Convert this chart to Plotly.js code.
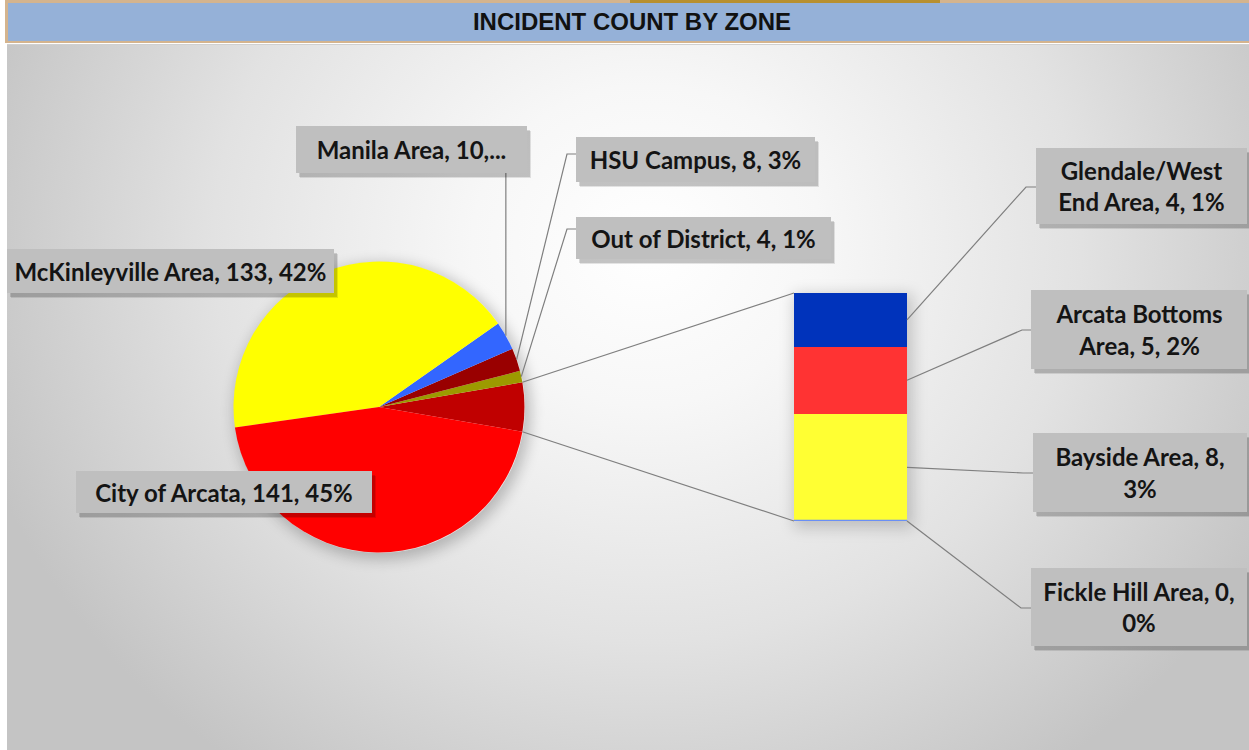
<!DOCTYPE html>
<html><head><meta charset="utf-8">
<script src="https://cdn.plot.ly/plotly-3.0.1.min.js"></script>
<style>
html,body{margin:0;padding:0;width:1249px;height:750px;overflow:hidden;background:#fff;}
#bg{position:absolute;left:7px;top:44px;width:1242px;height:706px;
 background:radial-gradient(ellipse 700px 640px at 640px 200px,#ffffff 0%,#f7f7f7 25%,#e2e2e2 62%,#c4c4c4 100%);
 border-top:1px solid #d0d0d0;}
#tb{position:absolute;left:5px;top:0;width:1250px;height:38px;background:#95B1D8;
 border-top:3px solid #D4B48E;border-bottom:2px solid #D4B48E;border-left:3px solid #D4B48E;}
#strip{position:absolute;left:630px;top:0;width:310px;height:3px;background:#B8902F;}
#pieglow{position:absolute;border-radius:50%;box-shadow:3px 4px 14px 3px rgba(0,0,0,0.22);}
#barglow{position:absolute;box-shadow:3px 4px 14px 3px rgba(0,0,0,0.18);}
#chart{position:absolute;left:0;top:0;width:1249px;height:750px;}
</style></head><body>
<div id="bg"></div><div id="tb"></div><div id="strip"></div>
<div id="pieglow"></div><div id="barglow"></div>
<div id="chart"></div>
<script>
// ---------- DATA ----------
const title = 'INCIDENT COUNT BY ZONE';
// main pie slices (after the "other" slice), counterclockwise
const pieNames  = ['Out of District','HSU Campus','Manila Area','McKinleyville Area','City of Arcata'];
const pieValues = [4, 8, 10, 133, 141];
const pieColors = ['#9C9A00','#990000','#3366FF','#FFFF00','#FF0000'];
const pieLabelText = ['Out of District, 4, 1%','HSU Campus, 8, 3%','Manila Area, 10,...',
                      'McKinleyville Area, 133, 42%','City of Arcata, 141, 45%'];
const otherName  = 'Other';
const otherColor = '#C00000';
// bar of pie (bottom to top)
const barNames  = ['Fickle Hill Area','Bayside Area','Arcata Bottoms Area','Glendale/West End Area'];
const barValues = [0, 8, 5, 4];
const barColors = ['#6A8FF5','#FFFF33','#FF3333','#0033BB'];
const barLabelText = ['Fickle Hill Area, 0,<br>0%','Bayside Area, 8,<br>3%',
                      'Arcata Bottoms<br>Area, 5, 2%','Glendale/West<br>End Area, 4, 1%'];

// ---------- LAYOUT GEOMETRY (pixels) ----------
const W = 1249, H = 750;
const PX = x => x / W, PY = y => 1 - y / H;
const pie = {cx: 379, cy: 407, R: 145.5};
const bar = {left: 794, right: 907, top: 293, bottom: 521};
const pieBoxes = [
  {x0:576, y0:217, w:255, h:42, stub:[567,229], attach:[576,229], leader:true},
  {x0:576, y0:137, w:239, h:45, stub:[567,154], attach:[576,154], leader:true},
  {x0:296, y0:126, w:231, h:47, vertical:true, bottom:173, leader:true},
  {x0:7,   y0:249, w:327, h:44, leader:false},
  {x0:76,  y0:471, w:296, h:42, leader:false}
];
const barBoxes = [
  {x0:1031, y0:568, w:216, h:78, stub:[1021,608], attach:[1031,608]},
  {x0:1033, y0:433, w:214, h:79, stub:[1023,473], attach:[1033,473]},
  {x0:1031, y0:290, w:216, h:79, stub:[1022,330], attach:[1031,330]},
  {x0:1036, y0:148, w:211, h:76, stub:[1026,187], attach:[1036,187]}
];

// ---------- DERIVED ----------
const otherValue = barValues.reduce((a,b)=>a+b,0);
const allValues = [otherValue].concat(pieValues);
const total = allValues.reduce((a,b)=>a+b,0);
const otherDeg = otherValue / total * 360;
const rad = d => d * Math.PI / 180;
const piePt = deg => [pie.cx + pie.R*Math.cos(rad(deg)), pie.cy - pie.R*Math.sin(rad(deg))];

Object.assign(document.getElementById('pieglow').style,{left:(pie.cx-pie.R)+'px',top:(pie.cy-pie.R)+'px',width:(2*pie.R)+'px',height:(2*pie.R)+'px'});
Object.assign(document.getElementById('barglow').style,{left:bar.left+'px',top:bar.top+'px',width:(bar.right-bar.left)+'px',height:(bar.bottom-bar.top)+'px'});

const traces = [];
traces.push({
  type:'pie', values: allValues, labels: [otherName].concat(pieNames),
  marker:{colors:[otherColor].concat(pieColors), line:{width:0}},
  sort:false, direction:'counterclockwise', rotation: 90 - otherDeg/2,
  textinfo:'none', showlegend:false, hoverinfo:'label+value+percent',
  domain:{x:[PX(pie.cx-pie.R), PX(pie.cx+pie.R)], y:[PY(pie.cy+pie.R), PY(pie.cy-pie.R)]}
});
barNames.forEach((n,i)=>traces.push({
  type:'bar', x:[0], y:[barValues[i]], width:1, name:n,
  marker:{color:barColors[i], line:{width:0}}, showlegend:false, xaxis:'x', yaxis:'y'
}));

const shapes = [];
const annotations = [];
const lineStyle = {color:'#7f7f7f', width:1.2};
const pathOf = pts => pts.map((p,i)=>(i?'L':'M')+PX(p[0]).toFixed(5)+','+PY(p[1]).toFixed(5)).join(' ');

shapes.push({type:'line', xref:'x', yref:'y', x0:-0.5, x1:0.5, y0:0, y1:0, line:{color:barColors[0], width:2.5}});

shapes.push({type:'path', xref:'paper', yref:'paper', path:pathOf([piePt(otherDeg/2),[bar.left,bar.top]]), line:lineStyle});
shapes.push({type:'path', xref:'paper', yref:'paper', path:pathOf([piePt(-otherDeg/2),[bar.left,bar.bottom]]), line:lineStyle});

let ang = otherDeg/2;
pieValues.forEach((v,i)=>{
  const d = v/total*360;
  const mid = ang + d/2; ang += d;
  const b = pieBoxes[i];
  if (!b.leader) return;
  const p = piePt(mid);
  let pts;
  if (b.vertical) pts = [p,[p[0], b.bottom]];
  else pts = [p, b.stub, b.attach];
  shapes.push({type:'path', xref:'paper', yref:'paper', path:pathOf(pts), line:lineStyle});
});

let cum = 0;
const barY = v => bar.bottom - v/otherValue*(bar.bottom-bar.top);
barValues.forEach((v,i)=>{
  const my = barY(cum + v/2); cum += v;
  const b = barBoxes[i];
  shapes.push({type:'path', xref:'paper', yref:'paper', path:pathOf([[bar.right,my], b.stub, b.attach]), line:lineStyle});
});

const labelFont = {family:'Lato, Calibri, sans-serif', size:24, color:'#141414', weight:700};
function addBox(b, text){
  // soft drop shadow (two layered rects)
  [[4,5,0.10],[3,4,0.14]].forEach(s=>shapes.push({type:'rect', xref:'paper', yref:'paper', layer:'above',
    x0:PX(b.x0+s[0]), x1:PX(b.x0+b.w+s[0]), y0:PY(b.y0+b.h+s[1]), y1:PY(b.y0+s[1]),
    fillcolor:'rgba(0,0,0,'+s[2]+')', line:{width:0}}));
  annotations.push({xref:'paper', yref:'paper', x:PX(b.x0), y:PY(b.y0), xanchor:'left', yanchor:'top',
    width:b.w, height:b.h, borderpad:0, borderwidth:0, showarrow:false, align:'center', valign:'middle',
    text:text, bgcolor:'#BFBFBF', font:labelFont});
}
pieBoxes.forEach((b,i)=>addBox(b, pieLabelText[i]));
barBoxes.forEach((b,i)=>addBox(b, barLabelText[i]));

const layout = {
  width:W, height:H, margin:{l:0,r:0,t:0,b:0,pad:0},
  paper_bgcolor:'rgba(0,0,0,0)', plot_bgcolor:'rgba(0,0,0,0)',
  showlegend:false, barmode:'stack',
  title:{text:title, x:PX(632), xanchor:'center', xref:'paper', y:PY(22), yref:'paper', yanchor:'middle',
         font:{family:'Liberation Sans, Arial, sans-serif', size:24, color:'#111', weight:700}},
  xaxis:{domain:[PX(bar.left), PX(bar.right)], range:[-0.5,0.5], visible:false, fixedrange:true},
  yaxis:{domain:[PY(bar.bottom), PY(bar.top)], range:[0,otherValue], visible:false, fixedrange:true},
  shapes:shapes, annotations:annotations
};
Plotly.newPlot('chart', traces, layout, {staticPlot:true, displayModeBar:false});
</script></body></html>
